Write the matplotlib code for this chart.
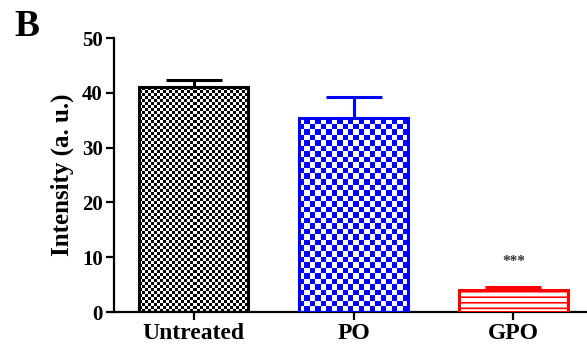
import numpy as np
import matplotlib
matplotlib.use("Agg")
import matplotlib.pyplot as plt
from matplotlib.colors import ListedColormap

plt.rcParams['font.family'] = ['Liberation Serif', 'DejaVu Serif']
plt.rcParams['font.weight'] = 'bold'
plt.rcParams['hatch.color'] = "#ff0000"
plt.rcParams['hatch.linewidth'] = 1.2

# data
groups = ["Untreated", "PO", "GPO"]
means = [41.0, 35.4, 4.1]
errs = [1.3, 3.8, 0.5]
colors = ["black", "#0000ff", "#ff0000"]
yticks = [0, 10, 20, 30, 40, 50]

fig = plt.figure(figsize=(5.87, 3.49), dpi=100)
ax = fig.add_axes([0.194, 0.106, 0.806, 0.785])

x = np.arange(len(groups))
bars = ax.bar(x, means, width=0.68, color=["none", "none", "white"], edgecolor=colors,
              linewidth=2.2, zorder=3)
# GPO: horizontal lines
bars[2].set_hatch("---")

for i in range(len(groups)):
    ax.errorbar(x[i], means[i], yerr=[[0], [errs[i]]], fmt="none", ecolor=colors[i],
                elinewidth=2.2, capsize=20, capthick=2.2, zorder=2)

ax.set_xlim(-0.5, 2.46)
ax.set_ylim(0, 50)
ax.set_yticks(yticks)
ax.set_xticks(x)
ax.set_xticklabels(groups, fontsize=17)
ax.tick_params(axis="y", labelsize=15, width=1.6, length=6, direction="out", pad=2)
ax.tick_params(axis="x", width=1.6, length=6, direction="out", pad=2)
ax.set_ylabel("Intensity (a. u.)", fontsize=18, fontweight="bold", labelpad=6)
for s in ["top", "right"]:
    ax.spines[s].set_visible(False)
for s in ["left", "bottom"]:
    ax.spines[s].set_linewidth(1.6)

# checker textures for the first two bars, clipped to the bar patches
fig.canvas.draw()
cell_px = [3.0, 5.5]
for i in range(2):
    b = bars[i]
    x0, y0 = b.get_x(), 0
    x1, y1 = b.get_x() + b.get_width(), b.get_height()
    p0 = ax.transData.transform((x0, y0))
    p1 = ax.transData.transform((x1, y1))
    nx = max(1, int(round((p1[0] - p0[0]) / cell_px[i])))
    ny = max(1, int(round((p1[1] - p0[1]) / cell_px[i])))
    chk = (np.add.outer(np.arange(ny), np.arange(nx)) % 2).astype(float)
    im = ax.imshow(chk, extent=(x0, x1, y0, y1), cmap=ListedColormap(["white", colors[i]]),
                   interpolation="nearest", aspect="auto", zorder=2.5)
    im.set_clip_path(b)
ax.set_xlim(-0.5, 2.46)
ax.set_ylim(0, 50)

ax.text(x[2], means[2] + errs[2] + 3.5, "***", ha="center", va="bottom", fontsize=11,
        color="#333333")

fig.text(0.025, 0.925, "B", fontsize=27, fontweight="bold", ha="left", va="center")

fig.savefig("out.png", dpi=100)
